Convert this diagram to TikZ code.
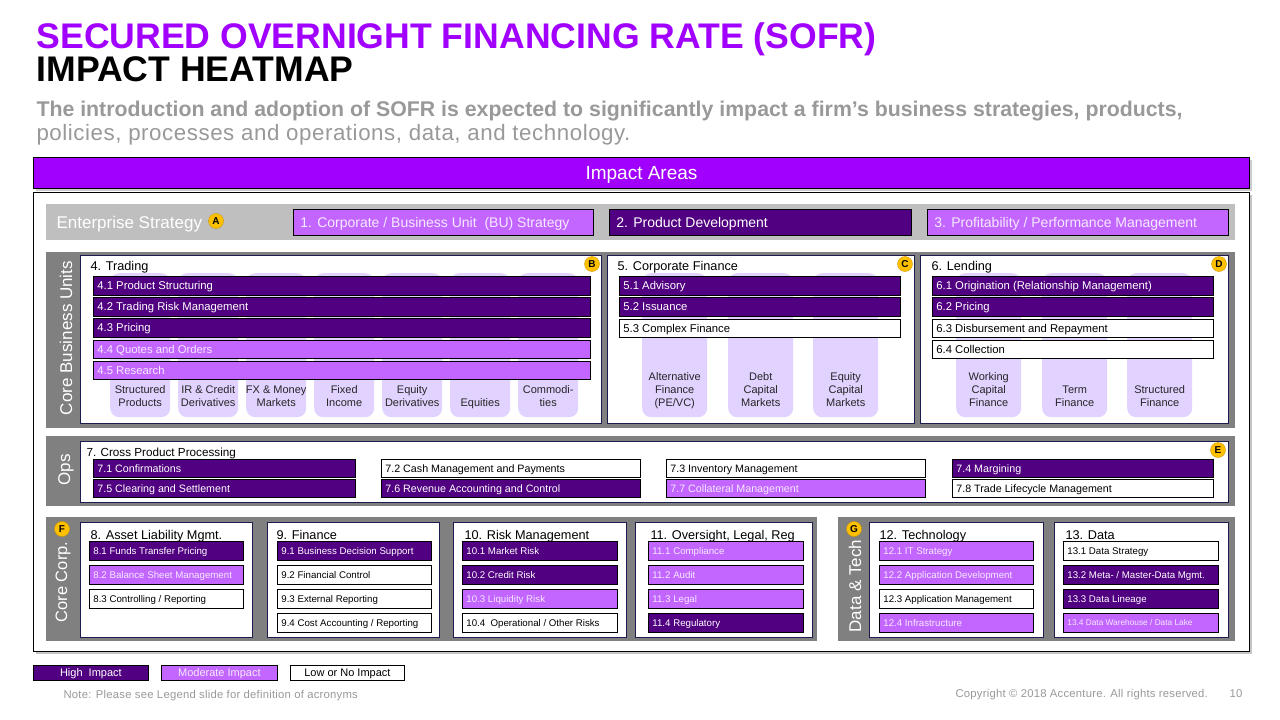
\documentclass[tikz,border=0pt]{standalone}
\usepackage{fontspec}
\setmainfont{Liberation Sans}
\usetikzlibrary{shadows}
\definecolor{accP}{HTML}{A100FF}
\definecolor{hiC}{HTML}{500080}
\definecolor{modC}{HTML}{C266FF}
\definecolor{lavC}{HTML}{E2D2FF}
\definecolor{grayL}{HTML}{BFBFBF}
\definecolor{grayD}{HTML}{808080}
\definecolor{navyC}{HTML}{1C1C50}
\definecolor{badgeC}{HTML}{FFC000}
\definecolor{subG}{HTML}{999999}
\definecolor{modT}{HTML}{F6EAFF}
\newcommand\fs[1]{\fontsize{#1}{#1}\selectfont}
\newcommand\cs[1]{\vrule width 0pt height .716em depth 0pt\smash{#1}}
\newcommand\mkbar[9][4]{%
  \pgfmathsetmacro\bw{#5-#3}\pgfmathsetmacro\bh{#6-#4}\pgfmathsetmacro\tw{#5-#3-2*#1}%
  \node[#7, anchor=north west, minimum width=\bw pt, minimum height=\bh pt, inner sep=0pt, font=\fs{#8}] (#2) at (#3,#4) {\makebox[\tw pt][l]{\cs{#9}}};}
\newcommand\mkrect[6]{%
  \pgfmathsetmacro\bw{#5-#3}\pgfmathsetmacro\bh{#6-#4}%
  \node[#1, anchor=north west, minimum width=\bw pt, minimum height=\bh pt, inner sep=0pt] (#2) at (#3,#4) {};}
\newcommand\mkcol[4]{%
  \mkrect{colbox}{#1}{#2}{273}{#2+#3}{417}%
  \node[collab, anchor=south, yshift=3.5pt] (#1l) at (#1.south) {#4\strut};}
\tikzset{
  hi/.style={fill=hiC, draw=black, line width=0.8pt, text=white},
  mod/.style={fill=modC, draw=black, line width=0.8pt, text=modT},
  low/.style={fill=white, draw=black, line width=0.8pt, text=black},
  unitbox/.style={fill=white, draw=navyC, line width=1pt},
  colbox/.style={fill=lavC, rounded corners=9pt},
  collab/.style={align=center, font=\fontsize{11}{12.8}\selectfont, text=black!85},
  badge/.style={circle, fill=badgeC, draw=badgeC!80!black, line width=0.4pt, minimum size=15pt, inner sep=0pt, font=\bfseries\fs{10}},
  rotlab/.style={rotate=90, text=white, font=\fs{17}},
  boxtitle/.style={anchor=base west, font=\fs{12.7}, text=black},
  foot/.style={text=subG, font=\fs{11.3}\addfontfeature{LetterSpace=2}},
}
\begin{document}
\begin{tikzpicture}[x=1pt,y=-1pt]
\useasboundingbox[fill=white] (0,0) rectangle (1280,720);

% titles
\node[anchor=base west, text=accP, font=\bfseries\fs{35.6}] (t1) at (33,48) {SECURED OVERNIGHT FINANCING RATE (SOFR)};
\node[anchor=base west, text=black, font=\bfseries\fs{35.6}] (t2) at (33,81) {IMPACT HEATMAP};
\node[anchor=base west, text=subG, font=\bfseries\fs{21.3}] (st1) at (33,116) {The introduction and adoption of SOFR is expected to significantly impact a firm’s business strategies, products,};
\node[anchor=base west, text=subG, font=\fs{22.3}\addfontfeature{LetterSpace=2.5}] (st2) at (33,140) {policies, processes and operations, data, and technology.};

% impact areas bar and main box
\mkrect{fill=accP, draw=black, line width=1pt, drop shadow={shadow xshift=2pt, shadow yshift=-2pt, opacity=0.4}}{ia}{33}{157}{1249}{188}
\node[text=white, font=\fs{19}] (ial) at (ia.center) {\cs{Impact Areas}};
\mkrect{fill=white, draw=black, line width=0.8pt, drop shadow={shadow xshift=3pt, shadow yshift=-3pt, opacity=0.45}}{main}{33}{192}{1249}{651}

% enterprise strategy
\mkrect{fill=grayL}{esband}{46}{204}{1235}{240}
\node[anchor=west, text=white, font=\fs{17}] (est) at (53,222) {\cs{Enterprise Strategy}};
\node[badge] (bA) at (216,221) {A};
\mkbar[7]{s1}{293}{209}{593}{235}{mod}{14}{1. Corporate / Business Unit~~(BU) Strategy}
\mkbar[7]{s2}{609}{209}{911}{235}{hi}{14}{2. Product Development}
\mkbar[7]{s3}{927}{209}{1228}{235}{mod}{14}{3. Profitability / Performance Management}

% core business units
\mkrect{fill=grayD}{cbuband}{46}{252}{1235}{428}
\node[rotlab] (cbul) at (66,338) {Core Business Units};
% trading
\mkrect{unitbox}{trad}{80}{255}{601}{423}
\node[boxtitle] (tradt) at (87,270) {4. Trading};
\node[badge] (bB) at (592,264) {B};
\mkcol{c1}{110}{60}{Structured\\Products}
\mkcol{c2}{178}{60}{IR \& Credit\\Derivatives}
\mkcol{c3}{246}{60}{FX \& Money\\Markets}
\mkcol{c4}{314}{60}{Fixed\\Income}
\mkcol{c5}{382}{60}{Equity\\Derivatives}
\mkcol{c6}{450}{60}{Equities}
\mkcol{c7}{518}{60}{Commodi-\\ties}
\mkbar{b41}{93}{276}{590}{295}{hi}{11.3}{4.1 Product Structuring}
\mkbar{b42}{93}{297}{590}{316}{hi}{11.3}{4.2 Trading Risk Management}
\mkbar{b43}{93}{318}{590}{337}{hi}{11.3}{4.3 Pricing}
\mkbar{b44}{93}{340}{590}{358}{mod}{11.3}{4.4 Quotes and Orders}
\mkbar{b45}{93}{361}{590}{379}{mod}{11.3}{4.5 Research}
% corporate finance
\mkrect{unitbox}{cf}{607}{255}{914}{423}
\node[boxtitle] (cft) at (614,270) {5. Corporate Finance};
\node[badge] (bC) at (905,264) {C};
\mkcol{d1}{642}{65}{Alternative\\Finance\\(PE/VC)}
\mkcol{d2}{728}{65}{Debt\\Capital\\Markets}
\mkcol{d3}{813}{65}{Equity\\Capital\\Markets}
\mkbar{b51}{619}{276}{900}{295}{hi}{11.3}{5.1 Advisory}
\mkbar{b52}{619}{297}{900}{316}{hi}{11.3}{5.2 Issuance}
\mkbar{b53}{619}{319}{900}{337}{low}{11.3}{5.3 Complex Finance}
% lending
\mkrect{unitbox}{lend}{920}{255}{1228}{423}
\node[boxtitle] (lendt) at (928,270) {6. Lending};
\node[badge] (bD) at (1219,264) {D};
\mkcol{e1}{956}{65}{Working\\Capital\\Finance}
\mkcol{e2}{1042}{65}{Term\\Finance}
\mkcol{e3}{1127}{65}{Structured\\Finance}
\mkbar{b61}{932}{276}{1213}{295}{hi}{11.3}{6.1 Origination (Relationship Management)}
\mkbar{b62}{932}{297}{1213}{316}{hi}{11.3}{6.2 Pricing}
\mkbar{b63}{932}{319}{1213}{337}{low}{11.3}{6.3 Disbursement and Repayment}
\mkbar{b64}{932}{340}{1213}{358}{low}{11.3}{6.4 Collection}

% ops
\mkrect{fill=grayD}{opsband}{46}{436}{1235}{506}
\node[rotlab] (opsl) at (66,470) {Ops};
\mkrect{unitbox}{cpp}{80}{441}{1228}{502}
\node[boxtitle, font=\fs{11.7}] (cppt) at (83,456) {7. Cross Product Processing};
\node[badge] (bE) at (1218,450) {E};
\mkbar{b71}{93}{459}{355}{477}{hi}{10.7}{7.1 Confirmations}
\mkbar{b72}{381}{459}{640}{477}{low}{10.7}{7.2 Cash Management and Payments}
\mkbar{b73}{666}{459}{925}{477}{low}{10.7}{7.3 Inventory Management}
\mkbar{b74}{952}{459}{1213}{477}{hi}{10.7}{7.4 Margining}
\mkbar{b75}{93}{479}{355}{497}{hi}{10.7}{7.5 Clearing and Settlement}
\mkbar{b76}{381}{479}{640}{497}{hi}{10.7}{7.6 Revenue Accounting and Control}
\mkbar{b77}{666}{479}{925}{497}{mod}{10.7}{7.7 Collateral Management}
\mkbar{b78}{952}{479}{1213}{497}{low}{10.7}{7.8 Trade Lifecycle Management}

% core corp
\mkrect{fill=grayD}{ccband}{46}{517}{817}{641}
\node[rotlab, font=\fs{16.5}] (ccl) at (63,582) {Core Corp.};
\node[badge] (bF) at (62,529) {F};
\mkrect{unitbox}{alm}{80}{522}{252}{637}
\node[boxtitle] (almt) at (87,539) {8. Asset Liability Mgmt.};
\mkbar{b81}{89}{541}{243}{560}{hi}{9.7}{8.1 Funds Transfer Pricing}
\mkbar{b82}{89}{565}{243}{584}{mod}{9.7}{8.2 Balance Sheet Management}
\mkbar{b83}{89}{589}{243}{608}{low}{9.7}{8.3 Controlling / Reporting}
\mkrect{unitbox}{fin}{267}{522}{439}{637}
\node[boxtitle] (fint) at (273,539) {9. Finance};
\mkbar{b91}{277}{541}{431}{560}{hi}{9.7}{9.1 Business Decision Support}
\mkbar{b92}{277}{565}{431}{584}{low}{9.7}{9.2 Financial Control}
\mkbar{b93}{277}{589}{431}{608}{low}{9.7}{9.3 External Reporting}
\mkbar{b94}{277}{613}{431}{632}{low}{9.7}{9.4 Cost Accounting / Reporting}
\mkrect{unitbox}{risk}{453}{522}{626}{637}
\node[boxtitle] (riskt) at (461,539) {10. Risk Management};
\mkbar{b101}{462}{541}{617}{560}{hi}{9.7}{10.1 Market Risk}
\mkbar{b102}{462}{565}{617}{584}{hi}{9.7}{10.2 Credit Risk}
\mkbar{b103}{462}{589}{617}{608}{mod}{9.7}{10.3 Liquidity Risk}
\mkbar{b104}{462}{613}{617}{632}{low}{9.7}{10.4~~Operational / Other Risks}
\mkrect{unitbox}{olr}{635}{522}{812}{637}
\node[boxtitle] (olrt) at (647,539) {11. Oversight, Legal, Reg};
\mkbar{b111}{648}{541}{803}{560}{mod}{9.7}{11.1 Compliance}
\mkbar{b112}{648}{565}{803}{584}{mod}{9.7}{11.2 Audit}
\mkbar{b113}{648}{589}{803}{608}{mod}{9.7}{11.3 Legal}
\mkbar{b114}{648}{613}{803}{632}{hi}{9.7}{11.4 Regulatory}

% data & tech
\mkrect{fill=grayD}{dtband}{838}{517}{1235}{641}
\node[rotlab] (dtl) at (855,586) {Data \& Tech};
\node[badge] (bG) at (854,529) {G};
\mkrect{unitbox}{tech}{869}{522}{1043}{637}
\node[boxtitle] (techt) at (876,539) {12. Technology};
\mkbar{b121}{879}{541}{1033}{560}{mod}{9.7}{12.1 IT Strategy}
\mkbar{b122}{879}{565}{1033}{584}{mod}{9.7}{12.2 Application Development}
\mkbar{b123}{879}{589}{1033}{608}{low}{9.7}{12.3 Application Management}
\mkbar{b124}{879}{613}{1033}{632}{mod}{9.7}{12.4 Infrastructure}
\mkrect{unitbox}{data}{1054}{522}{1228}{637}
\node[boxtitle] (datat) at (1062,539) {13. Data};
\mkbar{b131}{1063}{541}{1218}{560}{low}{9.7}{13.1 Data Strategy}
\mkbar{b132}{1063}{565}{1218}{584}{hi}{9.7}{13.2 Meta- / Master-Data Mgmt.}
\mkbar{b133}{1063}{589}{1218}{608}{hi}{9.7}{13.3 Data Lineage}
\mkbar{b134}{1063}{613}{1218}{632}{mod}{8.3}{13.4 Data Warehouse / Data Lake}

% legend
\mkrect{hi}{lh}{33}{665}{148}{680}
\node[text=white, font=\fs{11}] (lht) at (lh.center) {\cs{High~~Impact}};
\mkrect{mod}{lm}{161}{665}{277}{680}
\node[text=modT, font=\fs{11}] (lmt) at (lm.center) {\cs{Moderate Impact}};
\mkrect{low}{ll}{290}{665}{404}{680}
\node[text=black, font=\fs{11}] (llt) at (ll.center) {\cs{Low or No Impact}};

\node[foot, anchor=base west] (note) at (60,698) {Note: Please see Legend slide for definition of acronyms};
\node[foot, anchor=base west] (copy) at (952,697) {Copyright © 2018 Accenture. All rights reserved.};
\node[foot, anchor=base east] (pg) at (1246,697) {10};
\end{tikzpicture}
\end{document}
